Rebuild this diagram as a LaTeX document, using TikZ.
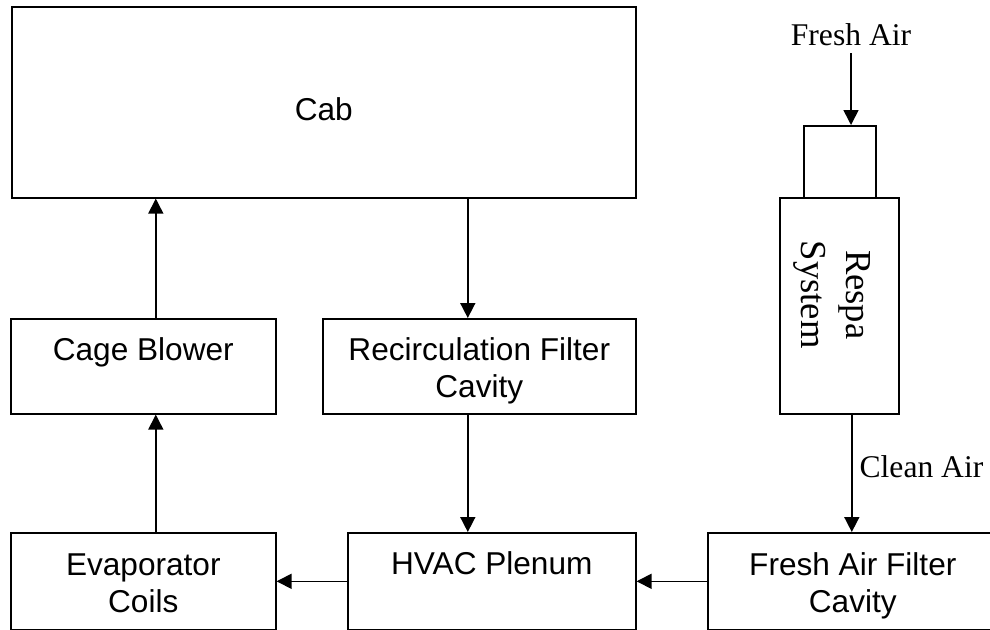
\documentclass[tikz,border=0pt]{standalone}
\usepackage{fontspec}
\setmainfont{Liberation Serif}
\setsansfont{Liberation Sans}
\usepackage{tikz}
\usetikzlibrary{arrows.meta}
\usetikzlibrary{positioning}

\begin{document}
\begin{tikzpicture}[x=0.5pt,y=-0.5pt]
% Diagram style
\tikzset{
    block/.style={draw, line width=0.8pt, rectangle, anchor=north west, inner sep=0pt},
    blocktext/.style={inner sep=0pt, align=center, font=\sffamily\fontsize{15.8}{18.5}\selectfont},
    note/.style={font=\fontsize{15.8}{18}\selectfont},
    flow/.style={line width=0.8pt, -{Triangle[width=7.5pt,length=7.5pt]}}
}
\useasboundingbox (0,0) rectangle (990,629);
% Boxes
\draw (11,6) node[block, minimum width=312pt, minimum height=95.5pt] (cab){};
\draw (10,318) node[block, minimum width=132.5pt, minimum height=47.5pt] (blower){};
\draw (322,318) node[block, minimum width=156.5pt, minimum height=47.5pt] (recirc){};
\draw (803,125) node[block, minimum width=36pt, minimum height=36pt] (inlet){};
\draw (779,197) node[block, minimum width=59.5pt, minimum height=108pt] (respa){};
\draw (10,532) node[block, minimum width=132.5pt, minimum height=48.5pt] (evap){};
\draw (347,532) node[block, minimum width=144pt, minimum height=48.5pt] (hvac){};
\draw (707,532) node[block, minimum width=145pt, minimum height=48.5pt] (faf){};
% Box texts
\node[blocktext, below=45.5pt of cab.north] (cabtext) {Cab};
\node[blocktext, below=9.5pt of blower.north] (blowertext) {Cage Blower};
\node[blocktext, below=9.5pt of recirc.north] (recirctext) {Recirculation Filter\\Cavity};
\node[blocktext, below=10.5pt of evap.north] (evaptext) {Evaporator\\Coils};
\node[blocktext, below=9.5pt of hvac.north] (hvactext) {HVAC Plenum};
\node[blocktext, below=10pt of faf.north] (faftext) {Fresh Air Filter\\Cavity};
\node[note, rotate=-90, align=center, inner sep=0pt, font=\fontsize{18.3}{22.5}\selectfont]
    (respatext) at ([xshift=-3.75pt,yshift=5.5pt]respa.center) {Respa\\System};
% Air flow
\coordinate (b1) at ([xshift=6.25pt]blower.north);
\coordinate (r1) at ([xshift=-5.75pt]recirc.north);
\coordinate (f1) at ([xshift=6.25pt]respa.south);
\draw[flow] (b1) -- (b1 |- cab.south);
\draw[flow] ([xshift=6.25pt]evap.north) -- ([xshift=6.25pt]blower.south);
\draw[flow] (r1 |- cab.south) -- (r1);
\draw[flow] (r1 |- recirc.south) -- (r1 |- hvac.north);
\draw[flow] (hvac.west) -- (evap.east);
\draw[flow] (faf.west) -- (hvac.east);
\draw[flow] (f1) -- (f1 |- faf.north) node[note, pos=0.44, right, inner sep=3.5pt] (cleanair){Clean Air};
\node[note] (freshair) at (851,35) {Fresh Air};
\draw[flow] (freshair) -- (freshair |- inlet.north);
\end{tikzpicture}
\end{document}
